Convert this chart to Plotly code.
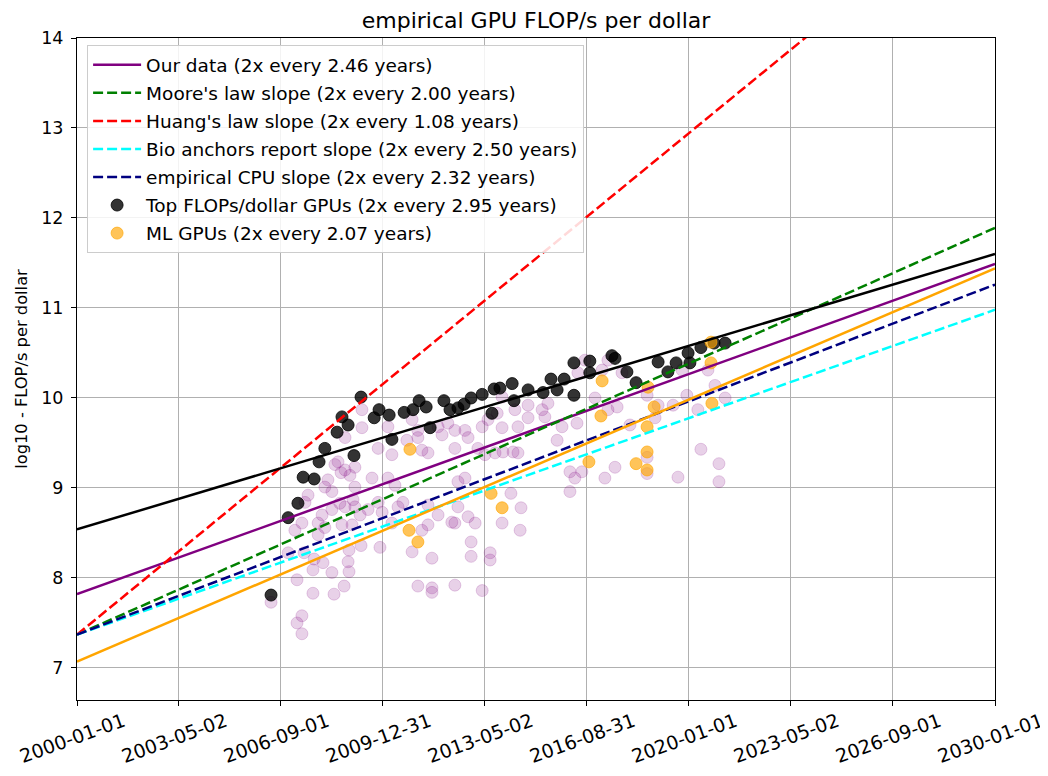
import pandas as pd
import plotly.graph_objects as go

# ---------------- data ----------------
top_years = [2006.34, 2006.90, 2007.22, 2007.39, 2007.75, 2007.91, 2008.10, 2008.50, 2008.66, 2008.86,
             2009.05, 2009.28, 2009.71, 2009.87, 2010.20, 2010.29, 2010.69, 2010.98, 2011.18, 2011.41,
             2011.54, 2011.99, 2012.19, 2012.45, 2012.65, 2012.88, 2013.24, 2013.56, 2013.63, 2013.82,
             2014.22, 2014.28, 2014.74, 2015.23, 2015.49, 2015.69, 2015.92, 2016.24, 2016.24, 2016.76,
             2016.76, 2017.48, 2017.58, 2017.97, 2018.27, 2018.99, 2019.31, 2019.58, 2019.97, 2020.03,
             2020.39, 2020.82, 2021.18]
top_vals = [7.81, 8.67, 8.83, 9.12, 9.10, 9.29, 9.44, 9.62, 9.79, 9.70,
            9.36, 10.01, 9.78, 9.87, 9.81, 9.54, 9.84, 9.87, 9.97, 9.90,
            9.67, 9.97, 9.87, 9.89, 9.93, 10.00, 10.04, 9.83, 10.10, 10.11,
            10.16, 9.97, 10.09, 10.06, 10.21, 10.09, 10.21, 10.03, 10.39, 10.41,
            10.28, 10.47, 10.44, 10.29, 10.17, 10.40, 10.29, 10.39, 10.50, 10.39,
            10.56, 10.61, 10.61]

ml_years = [2010.88, 2010.85, 2011.14, 2013.53, 2013.89, 2016.73, 2017.12, 2017.16, 2018.27,
            2018.63, 2018.63, 2018.63, 2018.66, 2018.86, 2020.72, 2020.72, 2020.75]
ml_vals = [9.43, 8.53, 8.40, 8.94, 8.78, 9.29, 9.80, 10.19, 9.27,
           9.40, 9.20, 9.68, 10.12, 9.90, 10.62, 10.39, 9.94]

all_years = [2007.19, 2007.71, 2007.35, 2007.19, 2007.35, 2008.40, 2008.73, 2008.33, 2008.89, 2008.86,
             2008.89, 2009.28, 2008.04, 2007.71, 2007.75, 2007.42, 2006.90, 2006.34,
             2008.53, 2008.76, 2009.08, 2008.63, 2008.92, 2008.10, 2008.33, 2007.55, 2007.45, 2008.59,
             2008.76, 2009.08, 2008.33, 2008.01, 2007.88, 2007.35, 2007.12, 2009.25, 2008.99, 2008.66,
             2008.10, 2009.08, 2009.02, 2008.20, 2008.43, 2009.64, 2009.51, 2007.88, 2008.76,
             2009.84, 2010.29, 2010.78, 2011.14, 2011.27, 2011.47, 2011.93, 2012.78, 2012.35, 2013.10,
             2013.33, 2012.68, 2012.45, 2010.16, 2010.39, 2010.65, 2010.49, 2011.47, 2011.80, 2012.45,
             2012.78, 2012.25, 2011.47, 2011.27, 2012.35, 2013.01, 2009.84, 2009.97, 2010.29,
             2009.90, 2010.95, 2011.60, 2012.88, 2012.88, 2013.50, 2013.50, 2011.14, 2011.60, 2011.60,
             2012.35, 2013.24,
             2015.69, 2013.92, 2014.25, 2014.41, 2013.66, 2016.11, 2016.27, 2016.50, 2017.25, 2017.58,
             2014.18, 2016.11, 2014.51, 2013.89, 2014.48,
             2018.63, 2018.63, 2019.64, 2020.39, 2020.98, 2020.98,
             2017.81, 2017.65, 2018.63, 2018.99, 2019.48, 2019.93, 2020.29, 2020.85, 2021.18, 2018.07,
             2018.89, 2019.77, 2020.62,
             2013.89, 2014.31, 2014.74, 2015.20, 2015.39, 2013.89, 2014.41, 2014.74, 2015.29, 2015.85,
             2016.34, 2016.60, 2017.35, 2017.16, 2016.93, 2017.35, 2016.37, 2013.73,
             2010.16, 2010.95, 2011.14, 2011.80, 2012.12, 2012.68, 2013.24, 2013.43, 2012.35, 2009.31,
             2009.31]
all_vals = [7.98, 7.83, 7.58, 7.50, 7.38, 7.82, 7.91, 8.06, 8.07, 8.18,
            8.31, 8.36, 8.17, 8.09, 8.21, 8.28, 8.28, 7.73,
            9.29, 9.20, 9.23, 9.17, 9.14, 9.01, 8.96, 8.92, 8.84, 8.83,
            8.79, 8.79, 8.76, 8.70, 8.61, 8.61, 8.53, 8.70, 8.59, 8.59,
            8.56, 9.01, 8.87, 9.09, 9.26, 9.11, 8.76, 8.48, 9.56,
            9.44, 9.37, 9.53, 9.56, 9.42, 9.39, 9.59, 9.56, 9.44, 9.44,
            9.37, 9.11, 9.07, 9.11, 9.03, 8.84, 8.79, 8.81, 8.70, 8.79,
            8.68, 8.62, 8.59, 8.53, 8.61, 8.61, 8.84, 8.73, 8.61,
            8.34, 8.29, 8.22, 8.40, 8.24, 8.20, 8.28, 7.91, 7.89, 7.84,
            7.92, 7.86,
            9.53, 9.40, 9.40, 9.39, 9.39, 9.18, 9.11, 9.18, 9.11, 9.23,
            8.94, 8.96, 8.78, 8.61, 8.53,
            9.34, 9.16, 9.12, 9.43, 9.27, 9.07,
            10.28, 9.90, 10.03, 9.92, 9.92, 10.03, 9.87, 10.14, 10.00, 9.70,
            9.78, 10.31, 10.31,
            10.01, 9.87, 9.92, 9.87, 9.94, 9.67, 9.68, 9.78, 9.79, 9.68,
            9.72, 10.42, 10.42, 10.31, 10.00, 9.87, 10.28, 9.83,
            9.68, 9.76, 9.64, 9.68, 9.72, 9.64, 9.68, 9.76, 9.64, 9.87,
            9.67]

line_names = ["Our data (2x every 2.46 years)",
              "Moore's law slope (2x every 2.00 years)",
              "Huang's law slope (2x every 1.08 years)",
              "Bio anchors report slope (2x every 2.50 years)",
              "empirical CPU slope (2x every 2.32 years)"]
line_start = [7.82, 7.37, 7.37, 7.37, 7.37]      # value at 2000-01-01
line_end = [11.49, 11.89, 15.73, 10.98, 11.26]    # value at 2030-01-01
line_colors = ["#800080", "#008000", "#ff0000", "#00ffff", "#000080"]
line_dash = ["solid", "10px,4px", "10px,4px", "10px,4px", "10px,4px"]

top_fit = [8.54, 11.60]
ml_fit = [7.07, 11.44]
fit_dates = ["2000-01-01", "2030-01-01"]

tick_dates = ["2000-01-01", "2003-05-02", "2006-09-01", "2009-12-31", "2013-05-02",
              "2016-08-31", "2020-01-01", "2023-05-02", "2026-09-01", "2030-01-01"]


def to_date(y):
    yi = int(y)
    return pd.Timestamp(yi, 1, 1) + pd.Timedelta(days=(y - yi) * 365.25)


FONT = "DejaVu Sans"
fig = go.Figure()

fig.add_trace(go.Scatter(
    x=[to_date(v) for v in all_years], y=all_vals, mode="markers", showlegend=False,
    marker=dict(size=12, color="rgba(128,0,128,0.18)", line=dict(color="rgba(128,0,128,0.18)", width=1))))

fig.add_trace(go.Scatter(
    x=[to_date(v) for v in top_years], y=top_vals, mode="markers",
    name="Top FLOPs/dollar GPUs (2x every 2.95 years)", legendrank=6, legendgroup="g6",
    marker=dict(size=12, color="rgba(0,0,0,0.8)", line=dict(color="rgba(0,0,0,0.8)", width=1))))

fig.add_trace(go.Scatter(
    x=[to_date(v) for v in ml_years], y=ml_vals, mode="markers",
    name="ML GPUs (2x every 2.07 years)", legendrank=7, legendgroup="g7",
    marker=dict(size=12, color="rgba(255,165,0,0.65)", line=dict(color="rgba(255,165,0,0.65)", width=1))))

for i, (nm, s, e, c, d) in enumerate(zip(line_names, line_start, line_end, line_colors, line_dash)):
    fig.add_trace(go.Scatter(x=fit_dates, y=[s, e], mode="lines", name=nm, legendrank=i + 1,
                             legendgroup="g%d" % (i + 1),
                             line=dict(color=c, width=2.5, dash=d)))

fig.add_trace(go.Scatter(x=fit_dates, y=top_fit, mode="lines", showlegend=False,
                         line=dict(color="black", width=2.5)))
fig.add_trace(go.Scatter(x=fit_dates, y=ml_fit, mode="lines", showlegend=False,
                         line=dict(color="orange", width=2.5)))

annotations = []
for t in tick_dates:
    annotations.append(dict(x=t, xref="x", y=0, yref="paper", yshift=-6, xshift=-5, text=t,
                            showarrow=False, textangle=-20, xanchor="center", yanchor="top",
                            font=dict(family=FONT, size=19, color="black")))

# the page adds an 8px body margin, so the figure is 8px smaller than the window
fig.update_layout(
    width=1040, height=768,
    margin=dict(l=69, r=53, t=30, b=76),
    paper_bgcolor="white", plot_bgcolor="white",
    font=dict(family=FONT, size=18.5, color="black"),
    title=dict(text="empirical GPU FLOP/s per dollar", x=0.5, xref="paper", xanchor="center",
               y=1 - 12 / 768, yanchor="middle", font=dict(family=FONT, size=22, color="black")),
    legend=dict(x=0.011, y=0.989, xanchor="left", yanchor="top", bgcolor="rgba(255,255,255,0.85)",
                bordercolor="#cccccc", borderwidth=1, font=dict(family=FONT, size=18.5),
                itemwidth=48, tracegroupgap=1.0),
    annotations=annotations,
    showlegend=True,
)
fig.update_xaxes(type="date", range=["2000-01-01", "2030-01-01"], tickvals=tick_dates,
                 showticklabels=False, showgrid=True, gridcolor="#b0b0b0", gridwidth=1,
                 showline=True, linecolor="black", linewidth=1, mirror=True, automargin=False,
                 ticks="outside", ticklen=5, tickcolor="black", zeroline=False)
fig.update_yaxes(range=[6.644, 14], tickvals=[7, 8, 9, 10, 11, 12, 13, 14],
                 showgrid=True, gridcolor="#b0b0b0", gridwidth=1, automargin=False,
                 showline=True, linecolor="black", linewidth=1, mirror=True,
                 ticks="outside", ticklen=5, tickcolor="black", zeroline=False,
                 tickfont=dict(family=FONT, size=17.5), ticklabelstandoff=4,
                 title=dict(text="log10 - FLOP/s per dollar", standoff=9,
                            font=dict(family=FONT, size=16.3)))

fig.write_html("out.html")
